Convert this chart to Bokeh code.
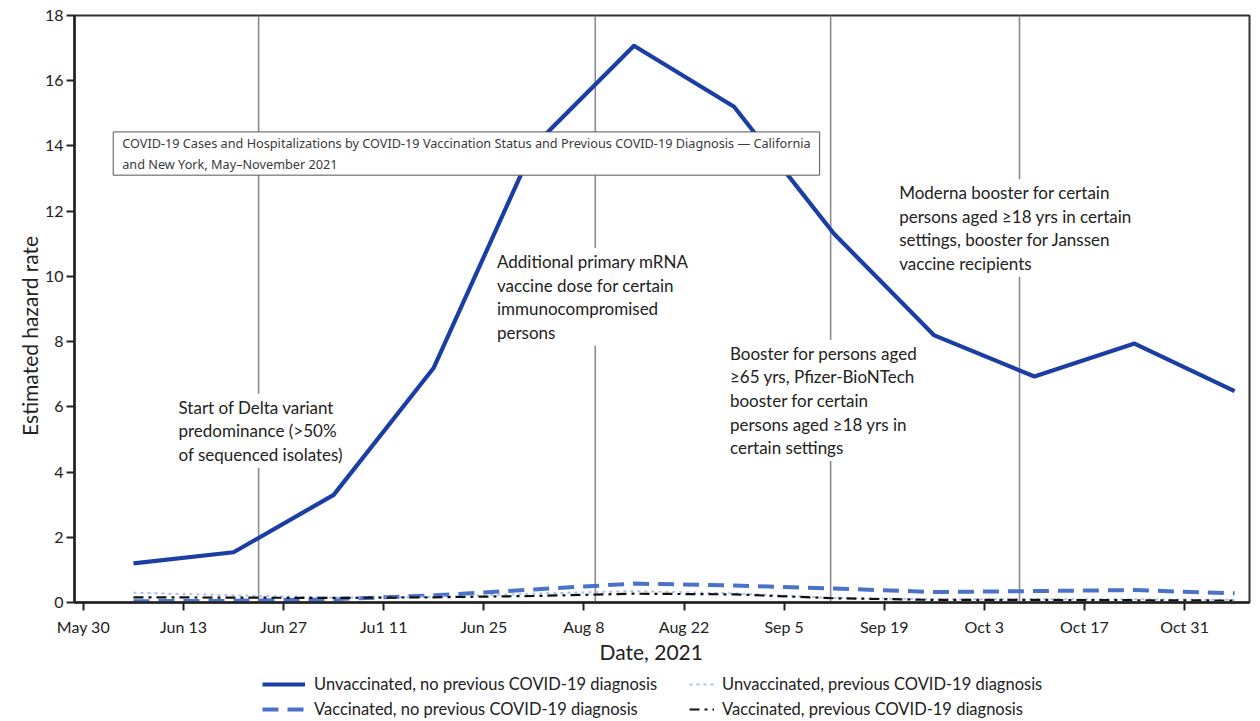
import pandas as pd
from bokeh.plotting import figure
from bokeh.layouts import column
from bokeh.models import (Label, Span, Legend, LegendItem, FixedTicker, Range1d)
from bokeh.embed import file_html
from bokeh.resources import INLINE

# ---------------- data ----------------
dates = ["2021-06-06", "2021-06-20", "2021-07-04", "2021-07-18", "2021-08-01", "2021-08-15",
         "2021-08-29", "2021-09-12", "2021-09-26", "2021-10-10", "2021-10-24", "2021-11-07"]
unvacc_no_prev = [1.2, 1.54, 3.3, 7.2, 14.0, 17.07, 15.2, 11.3, 8.19, 6.93, 7.94, 6.48]
vacc_no_prev = [0.04, 0.05, 0.1, 0.22, 0.4, 0.58, 0.52, 0.43, 0.32, 0.35, 0.38, 0.28]
unvacc_prev = [0.3, 0.22, 0.15, 0.17, 0.27, 0.35, 0.28, 0.14, 0.1, 0.1, 0.1, 0.08]
vacc_prev = [0.16, 0.15, 0.14, 0.16, 0.2, 0.27, 0.25, 0.13, 0.08, 0.08, 0.07, 0.06]

tick_dates = ["2021-05-30", "2021-06-13", "2021-06-27", "2021-07-11", "2021-07-25", "2021-08-08",
              "2021-08-22", "2021-09-05", "2021-09-19", "2021-10-03", "2021-10-17", "2021-10-31"]
tick_labels = ["May 30", "Jun 13", "Jun 27", "Ju1 11", "Jun 25", "Aug 8",
               "Aug 22", "Sep 5", "Sep 19", "Oct 3", "Oct 17", "Oct 31"]

event_dates = ["2021-06-23 12:00", "2021-08-09 14:00", "2021-09-11 12:00", "2021-10-07 22:00"]
event_texts = [
    "Start of Delta variant\npredominance (>50%\nof sequenced isolates)",
    "Additional primary mRNA\nvaccine dose for certain\nimmunocompromised\npersons",
    "Booster for persons aged\n\u226565 yrs, Pfizer-BioNTech\nbooster for certain\npersons aged \u226518 yrs in\ncertain settings",
    "Moderna booster for certain\npersons aged \u226518 yrs in certain\nsettings, booster for Janssen\nvaccine recipients",
]
event_text_x = ["2021-06-11 21:00", "2021-07-26 10:00", "2021-08-28 00:00", "2021-09-20 16:00"]
event_text_y = [6.40, 10.87, 8.05, 12.98]

title_text = ("COVID-19 Cases and Hospitalizations by COVID-19 Vaccination Status and Previous COVID-19 Diagnosis \u2014 California\n"
              "and New York, May\u2013November 2021")
title_x = "2021-06-03 04:00"
title_y = 14.43

series_names = ["Unvaccinated, no previous COVID-19 diagnosis",
                "Vaccinated, no previous COVID-19 diagnosis",
                "Unvaccinated, previous COVID-19 diagnosis",
                "Vaccinated, previous COVID-19 diagnosis"]

y_title = "Estimated hazard rate"
x_title = "Date, 2021"

# line styles of the four series
colors = ["#1b3ea5", "#4a72c8", "#a9c1ec", "#111111"]
widths = [4.2, 4, 2, 2.2]
dashes = ["solid", "16 9", "3 4", "10 5 3 5"]
series = [unvacc_no_prev, vacc_no_prev, unvacc_prev, vacc_prev]


def ms(s):
    return pd.Timestamp(s).value // 10**6


x = pd.to_datetime(dates)
x_start = pd.Timestamp("2021-05-30") - pd.Timedelta(hours=30)
x_end = pd.Timestamp("2021-11-09 02:00")

FONT = "Lato"
NB = "\u00a0"

p = figure(frame_width=1175, frame_height=587, x_axis_type="datetime", output_backend="svg",
           toolbar_location=None, x_range=Range1d(x_start, x_end), y_range=Range1d(0, 18),
           min_border_left=74, min_border_right=3, min_border_top=15, min_border_bottom=62)
p.background_fill_color = "white"
p.border_fill_color = "white"
p.xgrid.visible = False
p.ygrid.visible = False
p.outline_line_color = "#333333"
p.outline_line_width = 2

# vertical event lines
for d in event_dates:
    p.add_layout(Span(location=ms(d), dimension="height", line_color="#8c8c8c",
                      line_width=1.6, level="underlay"))

for ys, c, w, d in zip(series, colors, widths, dashes):
    p.line(x, ys, line_color=c, line_width=w, line_dash=d, line_join="round")

# axes
p.xaxis.ticker = FixedTicker(ticks=[ms(d) for d in tick_dates])
p.xaxis.major_label_overrides = {ms(d): lab for d, lab in zip(tick_dates, tick_labels)}
p.yaxis.ticker = FixedTicker(ticks=list(range(0, 19, 2)))
for ax in (p.xaxis[0], p.yaxis[0]):
    ax.axis_line_width = 2.5
    ax.axis_line_color = "#222222"
    ax.major_tick_line_width = 2
    ax.major_tick_line_color = "#222222"
    ax.major_tick_out = 8
    ax.major_tick_in = 0
    ax.minor_tick_line_color = None
    ax.major_label_text_font = FONT
    ax.major_label_text_font_size = "16px"
    ax.major_label_text_color = "#222222"
    ax.axis_label_text_font = FONT
    ax.axis_label_text_font_size = "21px"
    ax.axis_label_text_font_style = "normal"
    ax.axis_label_text_color = "#222222"
# trailing non-breaking spaces move the titles slightly off-centre, as in the original
p.xaxis.axis_label = x_title + NB * 4
p.yaxis.axis_label = y_title + NB * 10
p.xaxis.major_label_standoff = 6
p.xaxis.axis_label_standoff = 0
p.yaxis.major_label_standoff = 3
p.yaxis.axis_label_standoff = 0

# event annotations
for t, tx, ty in zip(event_texts, event_text_x, event_text_y):
    p.add_layout(Label(x=ms(tx), y=ty, text=t, anchor="top_left", text_font=FONT,
                       text_font_size="17px", text_color="#222222", text_line_height=1.12,
                       background_fill_color="white", padding=3))

# title box
p.add_layout(Label(x=ms(title_x), y=title_y, text=title_text, anchor="top_left",
                   text_font="Noto Sans", text_font_size="12.7px", text_color="#3a3a3a",
                   text_line_height=1.18, background_fill_color="white",
                   border_line_color="#555555", border_line_width=1, padding=(9, 2)))

# ---------------- legend strip below the chart ----------------
# the strip's own ranges keep its lines out of view; only the legend shows
lg = figure(width=1252, height=56, output_backend="svg", toolbar_location=None,
            x_axis_location=None, y_axis_location=None, x_range=Range1d(0, 1), y_range=Range1d(0, 1),
            min_border_left=0, min_border_right=0, min_border_top=0, min_border_bottom=0)
lg.outline_line_color = None
lg.xgrid.visible = False
lg.ygrid.visible = False
lg.background_fill_color = "white"
lg.border_fill_color = "white"
rs = [lg.line(x, ys, line_color=c, line_width=w, line_dash=d)
      for ys, c, w, d in zip(series, colors, widths, dashes)]

common = dict(label_text_font=FONT, label_text_font_size="16.5px", label_text_color="#222222",
              glyph_height=20, label_height=20, spacing=5, padding=0, margin=0,
              border_line_color=None, background_fill_alpha=0)
legend_a = Legend(items=[LegendItem(label=series_names[0], renderers=[rs[0]]),
                         LegendItem(label=series_names[1], renderers=[rs[1]])],
                  location=(188, 3), glyph_width=43, label_standoff=9, **common)
legend_b = Legend(items=[LegendItem(label=series_names[2], renderers=[rs[2]]),
                         LegendItem(label=series_names[3], renderers=[rs[3]])],
                  location=(615, 3), glyph_width=25, label_standoff=8, **common)
lg.add_layout(legend_a)
lg.add_layout(legend_b)

open("out.html", "w").write(file_html(column(p, lg), INLINE))
